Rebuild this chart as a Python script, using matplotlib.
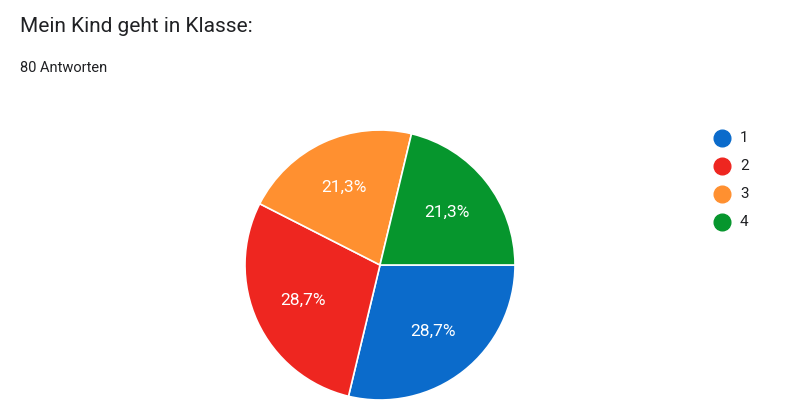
import matplotlib.pyplot as plt
from matplotlib.lines import Line2D

plt.rcParams['font.family'] = ['Roboto', 'DejaVu Sans']

categories = ["1", "2", "3", "4"]
counts = [23, 23, 17, 17]
pct_labels = ["28,7%", "28,7%", "21,3%", "21,3%"]
colors = ["#0b6bcb", "#ee2620", "#ff9030", "#06962d"]

fig = plt.figure(figsize=(8.09, 4.19), dpi=100)
fig.text(20 / 809, 1 - 27 / 419, "Mein Kind geht in Klasse:", fontsize=15,
         color="#202124", va="center")
fig.text(20 / 809, 1 - 68 / 419, "80 Antworten", fontsize=10.5,
         color="#202124", va="center")

ax = fig.add_axes([(380 - 135) / 809, (419 - 265 - 135) / 419, 270 / 809, 270 / 419])
wedges, texts = ax.pie(counts, colors=colors, startangle=0, counterclock=False,
                       labels=pct_labels, labeldistance=0.63, radius=1,
                       wedgeprops=dict(edgecolor="white", linewidth=1.2),
                       textprops=dict(color="white", fontsize=12.5))
for t in texts:
    t.set_ha("center")
    t.set_va("center")
ax.set_xlim(-1, 1)
ax.set_ylim(-1, 1)
ax.set_aspect("equal")

for i, c in enumerate(categories):
    y = 1 - (138 + 28 * i) / 419
    fig.add_artist(Line2D([722 / 809], [y], marker="o", markersize=12,
                          color=colors[i], transform=fig.transFigure))
    fig.text(740 / 809, y, c, fontsize=11, color="#202124", va="center")

fig.savefig("out.png", dpi=100)
